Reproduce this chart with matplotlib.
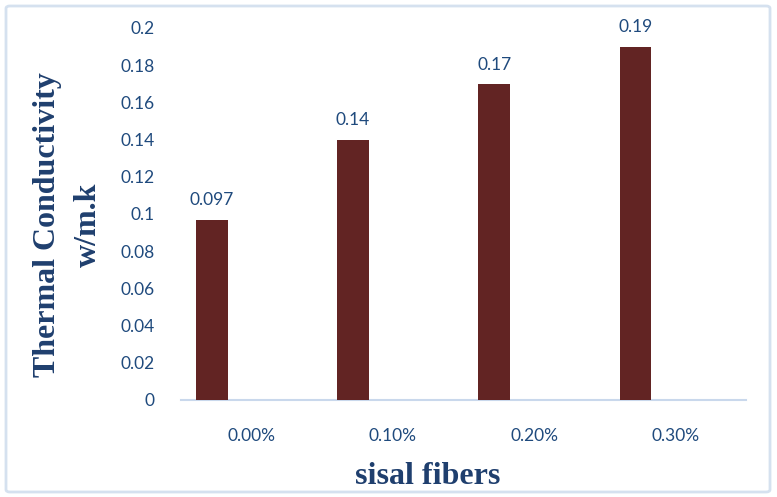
import numpy as np
import matplotlib.pyplot as plt
from matplotlib.patches import FancyBboxPatch

categories = ["0.00%", "0.10%", "0.20%", "0.30%"]
values = [0.097, 0.14, 0.17, 0.19]
value_labels = ["0.097", "0.14", "0.17", "0.19"]
yticks = [0, 0.02, 0.04, 0.06, 0.08, 0.1, 0.12, 0.14, 0.16, 0.18, 0.2]
ytick_labels = ["0", "0.02", "0.04", "0.06", "0.08", "0.1", "0.12", "0.14",
                "0.16", "0.18", "0.2"]

bar_color = "#622423"
text_color = "#1F4A7D"
title_color = "#1F3F6E"

fig = plt.figure(figsize=(7.77, 4.97), dpi=100)
ax = fig.add_axes([181 / 777, 97 / 497, 565 / 777, 372 / 497])

# outer chart border
border = FancyBboxPatch((6 / 777, 5 / 497), 764 / 777, 486 / 497,
                        boxstyle="round,pad=0,rounding_size=0.005",
                        transform=fig.transFigure, fill=False,
                        edgecolor="#D5E1EF", linewidth=2)
fig.patches.append(border)

x = np.arange(len(categories))
bars = ax.bar(x - 0.283, values, width=0.225, color=bar_color, zorder=3)

for b, lab in zip(bars, value_labels):
    ax.annotate(lab, (b.get_x() + b.get_width() / 2, b.get_height()),
                xytext=(0, 8), textcoords="offset points",
                ha="center", va="bottom", fontsize=12.5, color=text_color,
                family="Lato")

ax.set_xlim(-0.5, 3.5)
ax.set_ylim(0, 0.2)
ax.set_xticks(x)
ax.set_xticklabels(categories, family="Lato", fontsize=12.5, color=text_color)
ax.set_yticks(yticks)
ax.set_yticklabels(ytick_labels, family="Lato", fontsize=12.5, color=text_color)
ax.tick_params(length=0)
ax.tick_params(axis="x", pad=20)
ax.tick_params(axis="y", pad=19)

for s in ["top", "right", "left"]:
    ax.spines[s].set_visible(False)
ax.spines["bottom"].set_color("#C9D8EC")
ax.spines["bottom"].set_linewidth(1.5)

fig.text(48 / 777, 1 - 225 / 497, "Thermal Conductivity", rotation=90,
         ha="center", va="center", fontsize=23, fontweight="bold",
         family="Liberation Serif", color=title_color)
fig.text(88 / 777, 1 - 225 / 497, "w/m.k", rotation=90,
         ha="center", va="center", fontsize=23, fontweight="bold",
         family="Liberation Serif", color=title_color)
fig.text(428 / 777, 1 - 476 / 497, "sisal fibers",
         ha="center", va="center", fontsize=23, fontweight="bold",
         family="Liberation Serif", color=title_color)

fig.savefig("out.png", dpi=100)
